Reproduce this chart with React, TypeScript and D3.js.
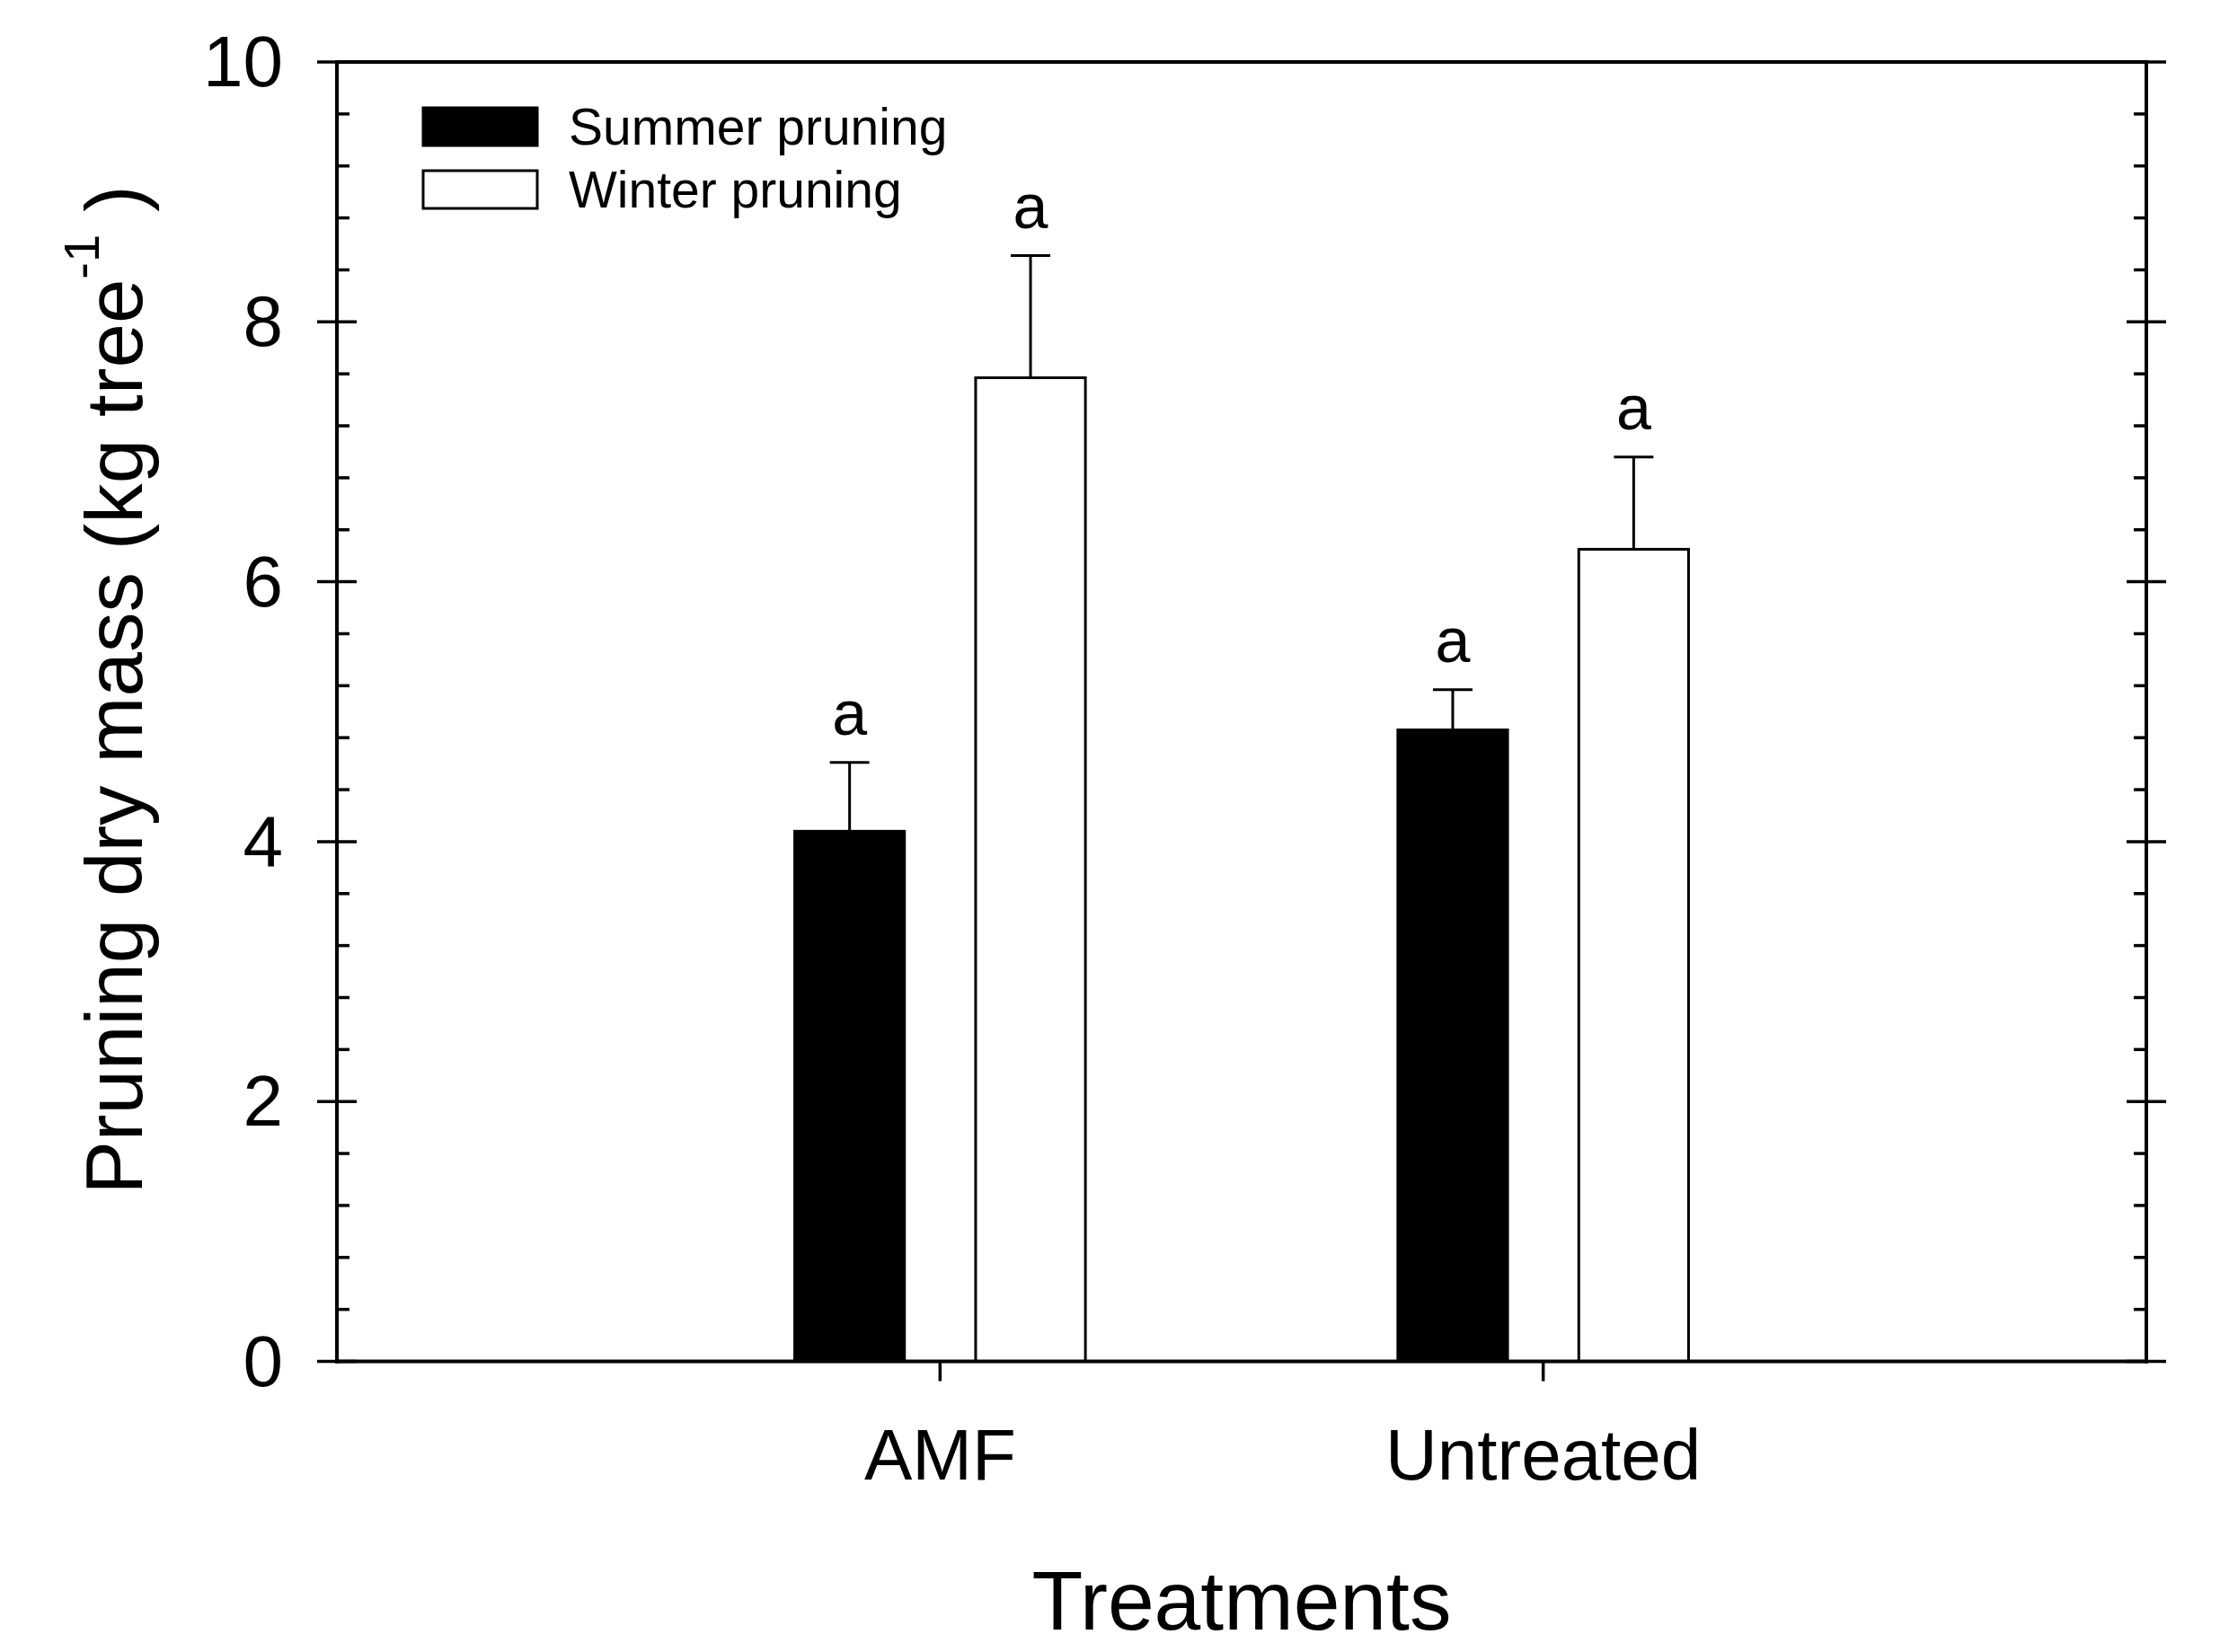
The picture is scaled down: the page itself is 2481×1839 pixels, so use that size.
import { useEffect, useRef } from 'react'
import * as d3 from 'd3'

// Chart data
const categories = ['AMF', 'Untreated']
const seriesNames = ['Summer pruning', 'Winter pruning']
const summerMeans = [4.08, 4.86]
const summerErrors = [0.53, 0.31]
const winterMeans = [7.57, 6.25]
const winterErrors = [0.94, 0.71]
const summerLetters = ['a', 'a']
const winterLetters = ['a', 'a']
const yTickValues = [0, 2, 4, 6, 8, 10]

const WIDTH = 2481
const HEIGHT = 1839
const FONT = 'Arial, "Liberation Sans", Helvetica, sans-serif'

export default function App() {
  const svgRef = useRef<SVGSVGElement>(null)

  useEffect(() => {
    if (!svgRef.current) return
    const svg = d3.select(svgRef.current)
    svg.selectAll('*').remove()

    // Plot frame
    const left = 375
    const right = 2389
    const top = 69
    const bottom = 1515.5
    const majorLen = 22
    const minorLen = 14
    const minorStep = 0.4

    const x = d3.scaleLinear().domain([0, categories.length + 1]).range([left, right])
    const y = d3.scaleLinear().domain([0, 10]).range([bottom, top])

    const barOffset = 0.15
    const barWidth = x(0.182) - x(0)

    const series = [
      { name: seriesNames[0], means: summerMeans, errors: summerErrors, letters: summerLetters, fill: '#000', offset: -barOffset },
      { name: seriesNames[1], means: winterMeans, errors: winterErrors, letters: winterLetters, fill: '#fff', offset: barOffset },
    ]

    const g = svg.append('g')

    // Bars with error bars and letters
    series.forEach(s => {
      const sg = g.append('g')
      categories.forEach((c, i) => {
        const cx = x(i + 1 + s.offset)
        const yTop = y(s.means[i])
        const yErr = y(s.means[i] + s.errors[i])
        sg.append('line')
          .attr('x1', cx).attr('x2', cx)
          .attr('y1', yTop).attr('y2', yErr)
          .attr('stroke', '#000').attr('stroke-width', 3)
        sg.append('line')
          .attr('x1', cx - 22).attr('x2', cx + 22)
          .attr('y1', yErr).attr('y2', yErr)
          .attr('stroke', '#000').attr('stroke-width', 3)
        sg.append('rect')
          .attr('x', cx - barWidth / 2)
          .attr('y', yTop)
          .attr('width', barWidth)
          .attr('height', y(0) - yTop)
          .attr('fill', s.fill)
          .attr('stroke', '#000')
          .attr('stroke-width', 3)
        sg.append('text')
          .attr('x', cx)
          .attr('y', yErr - 31)
          .attr('text-anchor', 'middle')
          .style('font', `70px ${FONT}`)
          .text(s.letters[i])
      })
    })

    // Axes frame
    const axis = svg.append('g').attr('stroke', '#000').attr('stroke-width', 4).attr('stroke-linecap', 'square')
    axis.append('line').attr('x1', left).attr('x2', right).attr('y1', bottom).attr('y2', bottom)
    axis.append('line').attr('x1', left).attr('x2', right).attr('y1', top).attr('y2', top)
    axis.append('line').attr('x1', left).attr('x2', left).attr('y1', top).attr('y2', bottom)
    axis.append('line').attr('x1', right).attr('x2', right).attr('y1', top).attr('y2', bottom)

    // Y ticks (left and right)
    const ticks = svg.append('g').attr('stroke', '#000').attr('stroke-width', 3.5)
    const minorTicks = d3.range(0, 10 / minorStep + 1)
      .map(i => +(i * minorStep).toFixed(2))
      .filter(v => !yTickValues.includes(v))
    yTickValues.forEach(v => {
      ticks.append('line').attr('x1', left - majorLen).attr('x2', left + majorLen).attr('y1', y(v)).attr('y2', y(v))
      ticks.append('line').attr('x1', right - majorLen).attr('x2', right + majorLen).attr('y1', y(v)).attr('y2', y(v))
    })
    minorTicks.forEach(v => {
      ticks.append('line').attr('x1', left).attr('x2', left + minorLen).attr('y1', y(v)).attr('y2', y(v))
      ticks.append('line').attr('x1', right - minorLen).attr('x2', right).attr('y1', y(v)).attr('y2', y(v))
    })
    // X ticks
    categories.forEach((c, i) => {
      ticks.append('line').attr('x1', x(i + 1)).attr('x2', x(i + 1)).attr('y1', bottom).attr('y2', bottom + majorLen)
    })

    // Tick labels
    const labels = svg.append('g').style('font', `80px ${FONT}`).attr('fill', '#000')
    yTickValues.forEach(v => {
      labels.append('text')
        .attr('x', 315)
        .attr('y', y(v) + 27)
        .attr('text-anchor', 'end')
        .text(v)
    })
    categories.forEach((c, i) => {
      labels.append('text')
        .attr('x', x(i + 1))
        .attr('y', 1647)
        .attr('text-anchor', 'middle')
        .text(c)
    })

    // Axis titles
    svg.append('text')
      .attr('x', (left + right) / 2)
      .attr('y', 1814)
      .attr('text-anchor', 'middle')
      .style('font', `93px ${FONT}`)
      .text('Treatments')

    const yTitle = svg.append('text')
      .attr('transform', `translate(158,768) rotate(-90)`)
      .attr('text-anchor', 'middle')
      .style('font', `89px ${FONT}`)
    yTitle.append('tspan').text('Pruning dry mass (kg tree')
    yTitle.append('tspan').attr('dy', -48).style('font-size', '56px').text('-1')
    yTitle.append('tspan').attr('dy', 48).text('\u00a0)')

    // Legend
    const legend = svg.append('g')
    series.forEach((s, i) => {
      const ly = 141 + i * 70
      legend.append('rect')
        .attr('x', 471)
        .attr('y', ly - 21)
        .attr('width', 127)
        .attr('height', 42)
        .attr('fill', s.fill)
        .attr('stroke', '#000')
        .attr('stroke-width', 3)
      legend.append('text')
        .attr('x', 633)
        .attr('y', ly + 20)
        .style('font', `57px ${FONT}`)
        .text(s.name)
    })

    return () => {
      svg.selectAll('*').remove()
    }
  }, [])

  return (
    <svg
      ref={svgRef}
      width={WIDTH}
      height={HEIGHT}
      viewBox={`0 0 ${WIDTH} ${HEIGHT}`}
      style={{ position: 'absolute', left: 0, top: 0, background: '#fff' }}
    />
  )
}
